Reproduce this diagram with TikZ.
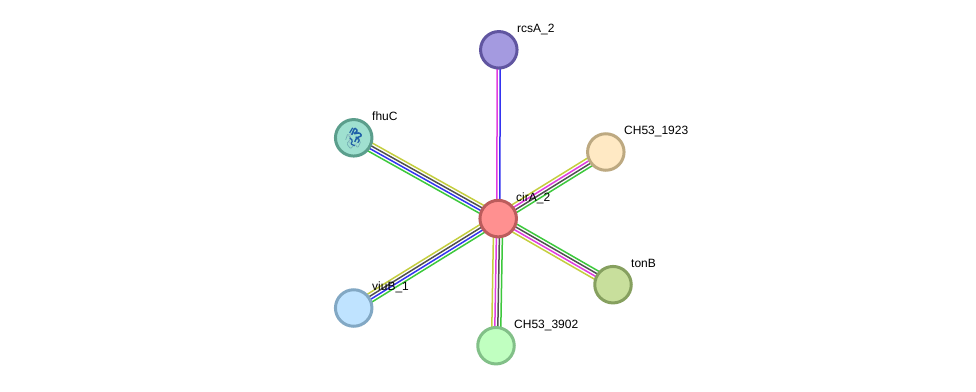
\documentclass[tikz,border=0pt]{standalone}
\usepackage{fontspec}
\setmainfont{Liberation Sans}
\usetikzlibrary{calc}
\pgfdeclarelayer{links}
\pgfsetlayers{links,main}
\definecolor{lnY}{HTML}{C4CE3E}
\definecolor{lnM}{HTML}{E03CE0}
\definecolor{lnD}{HTML}{505050}
\definecolor{lnB}{HTML}{3434F0}
\definecolor{lnG}{HTML}{3CC83C}
\definecolor{hubF}{HTML}{FF9090}\definecolor{hubE}{HTML}{BC5C5C}
\definecolor{rcsF}{HTML}{A49AE0}\definecolor{rcsE}{HTML}{6055A0}
\definecolor{fhuF}{HTML}{9FE0D0}\definecolor{fhuE}{HTML}{5B9E8C}
\definecolor{chaF}{HTML}{FFE9C4}\definecolor{chaE}{HTML}{BDA981}
\definecolor{tonF}{HTML}{C8DF9C}\definecolor{tonE}{HTML}{86A05F}
\definecolor{viuF}{HTML}{BFE3FF}\definecolor{viuE}{HTML}{82A8C4}
\definecolor{chbF}{HTML}{C0FFC0}\definecolor{chbE}{HTML}{82C088}
\definecolor{foldD}{HTML}{1F5FA8}\definecolor{foldL}{HTML}{6FA8B0}
\tikzset{
  x=1pt,y=-1pt,
  protein/.style 2 args={circle,draw=#1,fill=#2,line width=3pt,minimum size=36.5pt,inner sep=0pt,outer sep=0pt},
  tag/.style={anchor=base west,font=\fontsize{12}{12}\selectfont,text=black,inner sep=0pt},
  evidence/.style={line width=1.5pt}
}
% one parallel strand of a link, shifted sideways from the centre line
\newcommand{\strand}[4]{\draw[evidence,#4] ($(#1)!#3pt!90:(#2)$) -- ($(#2)!#3pt!-90:(#1)$);}
\begin{document}
\begin{tikzpicture}
\useasboundingbox (0,0) rectangle (976,391);

% proteins
\node[protein={hubE}{hubF}] (cirA) at (498.2,218.6) {};
\node[protein={rcsE}{rcsF}] (rcsA) at (498.8,49.8) {};
\node[protein={fhuE}{fhuF}] (fhuC) at (353.7,137.8) {};
\node[protein={chaE}{chaF}] (cha) at (605.8,152) {};
\node[protein={tonE}{tonF}] (tonB) at (613,284.7) {};
\node[protein={viuE}{viuF}] (viuB) at (353.7,308) {};
\node[protein={chbE}{chbF}] (chb) at (496,345.7) {};

% white ground, then the links, each strand one kind of evidence
\begin{pgfonlayer}{links}
  \fill[white] (0,0) rectangle (976,391);
  \strand{cirA}{rcsA}{1.5}{lnM}
  \strand{cirA}{rcsA}{-1.5}{lnB}
  \strand{cirA}{fhuC}{-4.5}{lnY}
  \strand{cirA}{fhuC}{-1.5}{lnD}
  \strand{cirA}{fhuC}{1.5}{lnB}
  \strand{cirA}{fhuC}{4.5}{lnG}
  \strand{cirA}{cha}{4.5}{lnY}
  \strand{cirA}{cha}{1.5}{lnM}
  \strand{cirA}{cha}{-1.5}{lnD}
  \strand{cirA}{cha}{-4.5}{lnG}
  \strand{cirA}{tonB}{4.5}{lnG}
  \strand{cirA}{tonB}{1.5}{lnD}
  \strand{cirA}{tonB}{-1.5}{lnM}
  \strand{cirA}{tonB}{-4.5}{lnY}
  \strand{cirA}{viuB}{-4.5}{lnY}
  \strand{cirA}{viuB}{-1.5}{lnD}
  \strand{cirA}{viuB}{1.5}{lnB}
  \strand{cirA}{viuB}{4.5}{lnG}
  \strand{cirA}{chb}{-4.5}{lnY}
  \strand{cirA}{chb}{-1.5}{lnM}
  \strand{cirA}{chb}{1.5}{lnD}
  \strand{cirA}{chb}{4.5}{lnG}
\end{pgfonlayer}

% folded-chain thumbnail inside fhuC
\begin{scope}[shift={(fhuC)}]
  \draw[foldL,line width=.6pt,rounded corners=1pt]
    (-8,2) -- (-6,-4) -- (-3,1) -- (-7,6) -- (-3,11) -- (1,6) -- (4,10) -- (7,4) -- (3,1);
  \draw[foldL!70,line width=.6pt,rounded corners=1pt] (-7,-1) -- (-2,-5) -- (-5,4) -- (0,9) -- (4,4);
  \draw[foldD,line width=1.5pt,rounded corners=1pt]
    (-2,-3) -- (1,-10) -- (4,-7) -- (0,-4) -- (6,-5) -- (8,-2) -- (3,0) -- (1,4);
  \draw[foldD,line width=1.2pt,rounded corners=1pt]
    (-4,-5) -- (-1,-10) (-4,0) -- (-1,3) -- (-3,6) -- (1,8) (2,-1) -- (6,2) -- (4,5);
\end{scope}

% labels
\node[tag] (tRcs) at (517,32) {rcsA\_2};
\node[tag] (tFhu) at (372,120) {fhuC};
\node[tag] (tCha) at (624,134) {CH53\_1923};
\node[tag] (tCir) at (516,201) {cirA\_2};
\node[tag] (tTon) at (631,267) {tonB};
\node[tag] (tViu) at (372,290) {viuB\_1};
\node[tag] (tChb) at (514,328) {CH53\_3902};
\end{tikzpicture}
\end{document}
